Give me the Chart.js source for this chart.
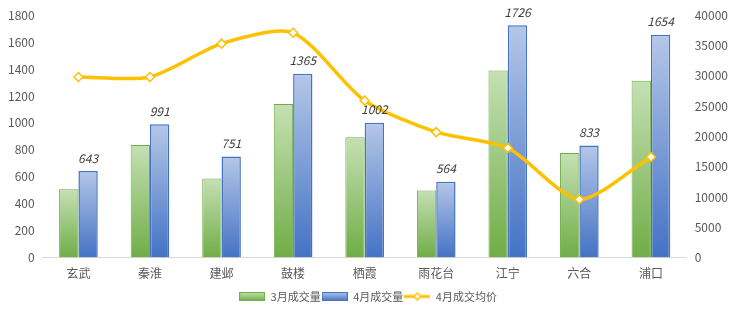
<!DOCTYPE html>
<html>
<head>
<meta charset="utf-8">
<script src="https://cdn.jsdelivr.net/npm/chart.js@4.4.0/dist/chart.umd.min.js"></script>
<style>
  html, body { margin: 0; padding: 0; background: #fff; }
  #wrap { width: 740px; height: 315px; position: relative; }
</style>
</head>
<body>
<div id="wrap"><canvas id="chart"></canvas></div>
<script>
// ---- Data ----
const districts  = ['玄武', '秦淮', '建邺', '鼓楼', '栖霞', '雨花台', '江宁', '六合', '浦口'];
const marchVol   = [507, 836, 587, 1141, 893, 499, 1390, 776, 1313];
const aprilVol   = [643, 991, 751, 1365, 1002, 564, 1726, 833, 1654];
const aprilPrice = [29800, 29800, 35300, 37100, 25900, 20700, 18100, 9600, 16600];

const TEXT = '#595959';
const FONT = "'Noto Sans CJK SC', 'Noto Sans', sans-serif";

// per-bar vertical gradient (light on top, dark at base)
function barGradient(top, bottom) {
  return function (c) {
    if (c.type !== 'data') return bottom;
    const chart = c.chart;
    const y = chart.scales.y;
    if (!y) return bottom;
    const yTop = y.getPixelForValue(c.raw);
    const yBase = y.getPixelForValue(0);
    if (!isFinite(yTop) || !isFinite(yBase) || yTop === yBase) return bottom;
    const g = chart.ctx.createLinearGradient(0, yTop, 0, yBase);
    g.addColorStop(0, top);
    g.addColorStop(1, bottom);
    return g;
  };
}

// legend icons
function boxIcon(top, bottom, border) {
  const cv = document.createElement('canvas');
  cv.width = 26; cv.height = 9;
  const x = cv.getContext('2d');
  const g = x.createLinearGradient(0, 0, 0, 9);
  g.addColorStop(0, top); g.addColorStop(1, bottom);
  x.fillStyle = g; x.fillRect(0, 0, 26, 9);
  x.strokeStyle = border; x.lineWidth = 1; x.strokeRect(0.5, 0.5, 25, 8);
  return cv;
}
function lineIcon() {
  const cv = document.createElement('canvas');
  cv.width = 26; cv.height = 10;
  const x = cv.getContext('2d');
  x.strokeStyle = '#FFC000'; x.lineWidth = 3;
  x.beginPath(); x.moveTo(0, 5); x.lineTo(26, 5); x.stroke();
  x.fillStyle = '#fff'; x.lineWidth = 1.5;
  x.beginPath(); x.moveTo(13, 1.5); x.lineTo(16.5, 5); x.lineTo(13, 8.5); x.lineTo(9.5, 5); x.closePath();
  x.fill(); x.stroke();
  return cv;
}
const icons = [
  lineIcon(),
  boxIcon('#C5E0B4', '#70AD47', '#70AD47'),
  boxIcon('#B4C7E7', '#4472C4', '#4472C4')
];

// value labels above April bars
const barLabels = {
  id: 'barLabels',
  afterDatasetsDraw: function (chart) {
    const meta = chart.getDatasetMeta(2);
    const ctx = chart.ctx;
    ctx.save();
    ctx.font = 'italic 12px ' + FONT;
    ctx.fillStyle = '#404040';
    ctx.textAlign = 'center';
    ctx.textBaseline = 'middle';
    meta.data.forEach(function (bar, i) {
      ctx.fillText(String(aprilVol[i]), bar.x, bar.y - 13);
    });
    ctx.restore();
  }
};

function plain(v) { return String(v); }

new Chart(document.getElementById('chart').getContext('2d'), {
  data: {
    labels: districts,
    datasets: [
      {
        type: 'line',
        label: '4月成交均价',
        data: aprilPrice,
        yAxisID: 'y2',
        borderColor: '#FFC000',
        borderWidth: 3.5,
        tension: 0.25,
        pointStyle: 'rectRot',
        pointRadius: 4.5,
        pointBackgroundColor: '#fff',
        pointBorderColor: '#FFC000',
        pointBorderWidth: 1.5,
        order: 0
      },
      {
        type: 'bar',
        label: '3月成交量',
        data: marchVol,
        yAxisID: 'y',
        backgroundColor: barGradient('#C5E0B4', '#70AD47'),
        borderColor: '#70AD47',
        borderWidth: 1,
        categoryPercentage: 0.54,
        barPercentage: 1,
        order: 1
      },
      {
        type: 'bar',
        label: '4月成交量',
        data: aprilVol,
        yAxisID: 'y',
        backgroundColor: barGradient('#B4C7E7', '#4472C4'),
        borderColor: '#4472C4',
        borderWidth: 1.5,
        categoryPercentage: 0.54,
        barPercentage: 1,
        order: 1
      }
    ]
  },
  options: {
    responsive: true,
    maintainAspectRatio: false,
    animation: false,
    layout: { padding: { left: 0, right: 4, top: 0, bottom: 3 } },
    scales: {
      x: {
        grid: { display: false, drawTicks: false },
        border: { color: '#D9D9D9' },
        ticks: { color: TEXT, font: { family: FONT, size: 12 }, padding: 9 }
      },
      y: {
        position: 'left',
        min: 0, max: 1800,
        grid: { display: false, drawTicks: false },
        border: { display: false },
        ticks: { stepSize: 200, color: TEXT, font: { family: FONT, size: 12 }, padding: 8, callback: plain }
      },
      y2: {
        position: 'right',
        min: 0, max: 40000,
        grid: { display: false, drawTicks: false },
        border: { display: false },
        ticks: { stepSize: 5000, color: TEXT, font: { family: FONT, size: 12 }, padding: 8, callback: plain }
      }
    },
    plugins: {
      tooltip: { enabled: false },
      legend: {
        position: 'bottom',
        labels: {
          usePointStyle: true,
          pointStyleWidth: 26,
          padding: 1,
          color: TEXT,
          font: { family: FONT, size: 11 },
          generateLabels: function (chart) {
            const items = Chart.defaults.plugins.legend.labels.generateLabels(chart);
            items.forEach(function (it) { it.pointStyle = icons[it.datasetIndex]; });
            const ord = [2, 0, 1];
            return items.sort(function (a, b) {
              return ord[a.datasetIndex] - ord[b.datasetIndex];
            });
          }
        }
      }
    }
  },
  plugins: [barLabels]
});
</script>
</body>
</html>
